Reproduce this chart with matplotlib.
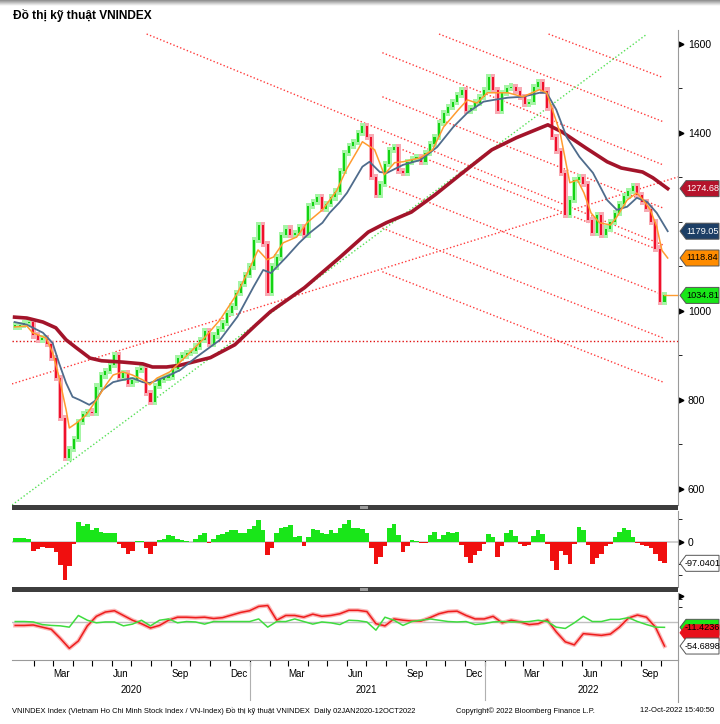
import matplotlib
matplotlib.use("Agg")
import matplotlib.pyplot as plt
import matplotlib.dates as mdates
import matplotlib.transforms as mtransforms
from matplotlib.patches import Rectangle, Polygon
import numpy as np
import pandas as pd

plt.rcParams["font.family"] = ["Liberation Sans", "DejaVu Sans"]

# weekly closes (first week ending 03JAN2020)
week_start = "2020-01-03"
closes = [
    964, 968, 972, 975, 945, 935, 938, 925, 895, 850,
    760, 670, 690, 712, 750, 768, 772, 770, 830, 855,
    865, 878, 900, 850, 860, 835, 845, 867, 872, 815,
    795, 832, 845, 850, 852, 870, 894, 900, 905, 910,
    920, 935, 955, 925, 945, 960, 973, 995, 1010, 1040,
    1060, 1080, 1100, 1160, 1192, 1150, 1040, 1100, 1120, 1170,
    1185, 1170, 1175, 1189, 1170, 1235, 1245, 1255, 1230, 1240,
    1255, 1268, 1315, 1355, 1370, 1380, 1400, 1415, 1390, 1300,
    1260, 1285, 1330, 1362, 1368, 1315, 1310, 1335, 1342, 1346,
    1335, 1355, 1375, 1391, 1422, 1445, 1458, 1470, 1485, 1497,
    1450, 1455, 1468, 1480, 1497, 1526, 1497, 1450, 1490, 1500,
    1503, 1495, 1480, 1465, 1470, 1503, 1515, 1495, 1455, 1390,
    1360, 1310, 1215, 1250, 1294, 1300, 1285, 1205, 1175, 1215,
    1170, 1185, 1200, 1220, 1240, 1258, 1270, 1280, 1260, 1245,
    1230, 1200, 1140, 1020, 1035,
]

# moving averages
ma_long_dates = ["2020-01-02", "2020-01-21", "2020-02-15", "2020-03-06", "2020-03-22", "2020-04-07",
                 "2020-04-28", "2020-05-16", "2020-06-18", "2020-07-19", "2020-08-03", "2020-08-25",
                 "2020-09-15", "2020-11-01", "2020-12-09", "2021-01-11", "2021-02-02", "2021-03-27",
                 "2021-05-20", "2021-07-04", "2021-08-01", "2021-09-09", "2021-10-16", "2021-11-29",
                 "2022-01-12", "2022-02-19", "2022-04-09", "2022-05-01", "2022-06-07", "2022-07-10",
                 "2022-08-01", "2022-09-03", "2022-09-19", "2022-10-12"]
ma_long = [986, 984, 975, 962, 935, 917, 894, 888, 885, 881, 874, 874,
           878, 895, 924, 969, 998, 1052, 1119, 1177, 1198, 1222, 1261, 1312,
           1362, 1389, 1418, 1402, 1366, 1335, 1321, 1312, 1299, 1274.68]

ma_mid_dates = ["2020-01-02", "2020-01-21", "2020-02-15", "2020-03-01", "2020-03-11", "2020-03-22",
                "2020-04-01", "2020-04-12", "2020-04-27", "2020-05-08", "2020-05-17", "2020-06-03",
                "2020-06-18", "2020-07-03", "2020-07-19", "2020-07-30", "2020-08-15", "2020-08-30",
                "2020-09-15", "2020-10-11", "2020-11-16", "2020-12-13", "2021-01-07", "2021-01-22",
                "2021-02-03", "2021-02-27", "2021-03-19", "2021-04-04", "2021-04-24", "2021-05-05",
                "2021-05-20", "2021-06-01", "2021-06-25", "2021-07-06", "2021-07-22", "2021-08-02",
                "2021-08-27", "2021-09-23", "2021-10-19", "2021-11-13", "2021-12-05", "2021-12-30",
                "2022-01-15", "2022-02-06", "2022-03-01", "2022-03-27", "2022-04-07", "2022-04-22",
                "2022-05-08", "2022-05-28", "2022-06-18", "2022-07-10", "2022-07-25", "2022-08-10",
                "2022-08-25", "2022-09-10", "2022-09-25", "2022-10-12"]
ma_mid = [975, 969, 951, 928, 883, 838, 807, 800, 789, 800, 822, 840,
          845, 849, 840, 838, 847, 856, 867, 897, 935, 987, 1054, 1092,
          1085, 1121, 1153, 1175, 1198, 1220, 1243, 1265, 1324, 1335, 1312, 1310,
          1328, 1339, 1368, 1413, 1445, 1470, 1474, 1479, 1481, 1490, 1490, 1452,
          1391, 1346, 1310, 1249, 1227, 1234, 1254, 1245, 1220, 1179.05]

ma_short_dates = ["2020-01-02", "2020-01-21", "2020-01-30", "2020-02-20", "2020-03-01", "2020-03-11",
                  "2020-03-22", "2020-03-27", "2020-04-07", "2020-04-22", "2020-05-08", "2020-05-23",
                  "2020-06-03", "2020-06-18", "2020-07-03", "2020-07-19", "2020-07-30", "2020-08-10",
                  "2020-08-30", "2020-09-15", "2020-10-20", "2020-11-16", "2020-12-13", "2021-01-02",
                  "2021-01-14", "2021-01-28", "2021-02-07", "2021-02-22", "2021-03-15", "2021-03-31",
                  "2021-04-24", "2021-05-16", "2021-06-01", "2021-06-18", "2021-06-25", "2021-07-14",
                  "2021-07-29", "2021-08-14", "2021-08-27", "2021-09-23", "2021-10-12", "2021-10-29",
                  "2021-11-21", "2021-12-05", "2021-12-20", "2022-01-05", "2022-01-15", "2022-02-06",
                  "2022-03-01", "2022-03-27", "2022-04-07", "2022-04-16", "2022-04-28", "2022-05-13",
                  "2022-05-25", "2022-06-04", "2022-06-15", "2022-06-28", "2022-07-15", "2022-07-25",
                  "2022-08-10", "2022-08-25", "2022-09-04", "2022-09-15", "2022-09-25", "2022-10-03",
                  "2022-10-12"]
ma_short = [964, 966, 951, 939, 906, 852, 778, 737, 748, 766, 800, 834,
            856, 863, 856, 845, 834, 849, 863, 885, 935, 980, 1040, 1099,
            1137, 1115, 1121, 1153, 1166, 1198, 1227, 1270, 1320, 1362, 1380, 1362,
            1306, 1333, 1335, 1344, 1362, 1413, 1452, 1474, 1467, 1490, 1490, 1490,
            1481, 1497, 1490, 1452, 1400, 1288, 1294, 1265, 1220, 1198, 1193, 1211,
            1249, 1265, 1249, 1227, 1189, 1136, 1118.84]

# trend lines: (start date, start value, end date, end value)
down_lines = [
    ("2022-04-10", 1622, "2022-10-05", 1524),
    ("2021-10-22", 1622, "2022-10-05", 1425),
    ("2021-07-26", 1580, "2022-10-05", 1328),
    ("2021-07-26", 1481, "2022-10-05", 1231),
    ("2021-07-26", 1380, "2022-10-05", 1133),
    ("2020-07-25", 1622, "2022-10-05", 1148),
    ("2021-07-26", 1285, "2022-10-05", 1036),
    ("2021-07-26", 1186, "2022-10-05", 939),
    ("2021-07-26", 1088, "2022-10-05", 840),
]
up_red_line = ("2019-12-29", 836, "2022-10-28", 1301)
up_green_line = ("2019-12-29", 564, "2022-09-10", 1622)
support_level = 933

# lower panel 1: histogram (weekly)
hist_vals = [
    15, 15, 15, 10, -40, -35, -25, -28, -30, -45,
    -105, -170, -110, -10, 90, 70, 80, 50, 60, 45,
    40, 40, 40, -10, -30, -55, -40, 5, 3, -30,
    -55, -20, 8, 10, 30, 25, 10, 8, 5, -3,
    10, 30, 40, -8, 10, 30, 35, 45, 50, 50,
    40, 40, 55, 70, 95, 50, -60, -30, 40, 60,
    65, 75, 20, 25, -20, 20, 55, 50, 40, 35,
    50, 40, 60, 80, 95, 60, 60, 55, 40, -30,
    -100, -70, -20, 60, 80, 30, -45, -20, 8, 5,
    -5, -5, 30, 45, 10, 30, 45, 40, 45, -15,
    -70, -95, -60, -40, -10, 35, 20, -70, -20, 40,
    50, 25, -10, -20, -15, 25, 50, 35, -10, -85,
    -125, -40, -60, -100, -10, 65, 50, -15, -100, -75,
    -55, -20, -10, 20, 45, 60, 50, 20, -5, -15,
    -20, -30, -55, -85, -97.04,
]

# lower panel 2: two oscillator lines (every two weeks)
osc_red = [
    -7, -7, -6, -11, -16, -37, -60, -43, -8, 14, 24, 27, 16, 5, -3, -13,
    -7, 5, 12, 12, 11, 12, 9, 11, 17, 23, 27, 37, 39, 5, 16, 16,
    12, 19, 14, 16, 20, 28, 28, 25, -3, -8, 8, 5, 3, 3, 11, 20,
    25, 26, 16, 8, 8, 14, -1, 5, 1, -5, -3, 6, -22, -45, -52, -26,
    -28, -30, -27, -11, 10, 17, 12, -11, -54.69,
]
osc_green = [
    2, 2, 1, -5, -7, -8, -11, 16, 5, -1, 1, 1, -8, -4, 5, -8,
    5, 8, -1, 2, 1, -4, 2, 2, 2, 2, 2, 8, -11, 2, 2, 8,
    2, -4, 1, -1, -5, 5, 4, 1, -18, 12, 5, -7, 2, 5, 8, 5,
    2, 1, 2, -5, -3, 1, 2, 1, 1, 2, 5, 2, -11, -14, -1, 14,
    2, 2, 7, 7, 11, 2, -5, -11, -11.42,
]

weeks = pd.date_range(week_start, periods=len(closes), freq="7D")
osc_dates = pd.date_range(week_start, periods=len(osc_red), freq="14D")
xmin, xmax = pd.Timestamp("2019-12-29"), pd.Timestamp("2022-10-28")

W, H = 720, 724
fig = plt.figure(figsize=(W / 100, H / 100), dpi=100)
pix = mtransforms.IdentityTransform()


def fbox(x0, y0, x1, y1):
    return [x0 / W, 1 - y1 / H, (x1 - x0) / W, (y1 - y0) / H]


ax = fig.add_axes(fbox(12, 30, 678, 505))
ax_h = fig.add_axes(fbox(12, 511, 678, 587), sharex=ax)
ax_o = fig.add_axes(fbox(12, 593, 678, 660), sharex=ax)

axis_grey = "#9a9a9a"
for a in (ax, ax_h, ax_o):
    for s in ("top", "left", "bottom"):
        a.spines[s].set_visible(False)
    a.spines["right"].set_color(axis_grey)
    a.yaxis.tick_right()
    a.tick_params(axis="y", which="major", length=0, labelsize=7.5, pad=7)
    a.tick_params(axis="x", which="both", length=0, labelbottom=False)
    a.set_xlim(xmin, xmax)
ax_o.spines["bottom"].set_visible(True)
ax_o.spines["bottom"].set_color(axis_grey)

# --- main panel ---
ax.set_ylim(564, 1631)
ax.set_yticks([600, 800, 1000, 1400, 1600])
ax.set_yticks([700, 900, 1100, 1200, 1300, 1500], minor=True)
ax.tick_params(axis="y", which="minor", length=3, color="black")

dot = (0, (1, 1.6))
for d0, v0, d1, v1 in down_lines:
    ax.plot([pd.Timestamp(d0), pd.Timestamp(d1)], [v0, v1], color="#ff3b3b", lw=1.0, ls=dot)
ax.plot([pd.Timestamp(up_red_line[0]), pd.Timestamp(up_red_line[2])],
        [up_red_line[1], up_red_line[3]], color="#ff3b3b", lw=1.0, ls=dot)
ax.plot([pd.Timestamp(up_green_line[0]), pd.Timestamp(up_green_line[2])],
        [up_green_line[1], up_green_line[3]], color="#55e055", lw=1.0, ls=dot)
ax.axhline(support_level, color="#e01010", lw=1.0, ls=dot)

opens = np.r_[closes[0], closes[:-1]]
cl = np.array(closes, dtype=float)
up = cl >= opens
body_lo = np.minimum(opens, cl)
body_h = np.maximum(np.abs(cl - opens), 4)
colors = np.where(up, "#13d313", "#f0102c")
halo = np.where(up, "#a6f5a6", "#f8aab3")
ax.bar(weeks, body_h + 14, bottom=body_lo - 7, width=7.0, color=halo, lw=0, zorder=3)
ax.bar(weeks, body_h, bottom=body_lo, width=3.2, color=colors, lw=0, zorder=4)

ax.plot(pd.to_datetime(ma_long_dates), ma_long, color="#a3142a", lw=2.6, zorder=5)
ax.plot(pd.to_datetime(ma_mid_dates), ma_mid, color="#4f6c8c", lw=1.3, zorder=5)
ax.plot(pd.to_datetime(ma_short_dates), ma_short, color="#ff9b2f", lw=1.1, zorder=6)
ax.plot([weeks[-1], xmax], [closes[-1], closes[-1]], color="#ff9b2f", lw=1.0, zorder=6)


def tag(a, value, text, face, fg, ec="#555555"):
    y = a.transData.transform((0, value))[1]
    pts = [(680, y), (686, y + 8), (719, y + 8), (719, y - 8), (686, y - 8)]
    fig.add_artist(Polygon(pts, closed=True, transform=pix, fc=face, ec=ec, lw=0.7, zorder=10))
    fig.text(702.5, y, text, transform=pix, fontsize=6.6, color=fg, ha="center", va="center", zorder=11)


def tri(a, value):
    t = mtransforms.blended_transform_factory(a.transAxes, a.transData)
    a.plot([1.005], [value], marker=">", ms=3.5, color="black", transform=t, clip_on=False)


for v in [600, 800, 1000, 1400, 1600]:
    tri(ax, v)
tag(ax, 1274.68, "1274.68", "#b5132b", "white")
tag(ax, 1179.05, "1179.05", "#1d3f66", "white")
tag(ax, 1118.84, "1118.84", "#ff8c00", "black")
tag(ax, 1034.81, "1034.81", "#19e619", "black")

# --- histogram panel ---
ax_h.set_ylim(-203, 137)
ax_h.set_yticks([0])
ax_h.set_yticks([-150, -100, 100], minor=True)
ax_h.tick_params(axis="y", which="minor", length=3, color="black")
hv = np.array(hist_vals)
ax_h.bar(weeks, hv, width=7, color=np.where(hv >= 0, "#19e619", "#f00f0f"), lw=0)
ax_h.axhline(0, color="#c8c8c8", lw=1.2, zorder=0)
tri(ax_h, 0)
tag(ax_h, -97.0401, "-97.0401", "white", "black")

# --- oscillator panel ---
ax_o.set_ylim(-87, 68)
ax_o.set_yticks([])
ax_o.set_yticks([35, 55], minor=True)
ax_o.tick_params(axis="y", which="minor", length=3, color="black")
ax_o.axhline(0, color="#c0c0c0", lw=1.0, zorder=0)
ax_o.plot(osc_dates, osc_red, color="#fbb6b6", lw=3.0, zorder=2)
ax_o.plot(osc_dates, osc_red, color="#ee1c1c", lw=1.1, zorder=3)
ax_o.plot(osc_dates, osc_green, color="#3fdc3f", lw=1.1, zorder=4)
tri(ax_o, 60)
tag(ax_o, -11.4236, "-11.4236", "#19e619", "black")
tag(ax_o, -24, "", "#e8101a", "black", ec="#e8101a")
tag(ax_o, -54.6898, "-54.6898", "white", "black")

# month ticks and labels under the bottom panel
month_starts = pd.date_range("2020-02-01", "2022-10-01", freq="MS")
ax_o.set_xticks(month_starts)
ax_o.tick_params(axis="x", which="major", length=4, color="black", direction="out")
xtr = mtransforms.blended_transform_factory(ax_o.transData, fig.transFigure)
for yr in (2020, 2021, 2022):
    for mon, name in ((3, "Mar"), (6, "Jun"), (9, "Sep"), (12, "Dec")):
        d = pd.Timestamp(yr, mon, 15)
        if d < xmax:
            ax_o.text(d, 1 - 674 / H, name, transform=xtr, ha="center", va="center", fontsize=7)
for yr, mid in ((2020, "2020-07-01"), (2021, "2021-07-01"), (2022, "2022-06-10")):
    ax_o.text(pd.Timestamp(mid), 1 - 690 / H, str(yr), transform=xtr, ha="center", va="center", fontsize=7)
for d in ("2021-01-01", "2022-01-01"):
    dn = mdates.date2num(pd.Timestamp(d))
    ax_o.plot([dn, dn], [1 - 662 / H, 1 - 700 / H], transform=xtr, color="#b0b0b0", lw=0.8, clip_on=False)
fig.add_artist(plt.Line2D([678 / W, 678 / W], [1 - 660 / H, 1 - 702 / H], color=axis_grey, lw=0.8))

# panel separators
for y0 in (505, 587):
    fig.add_artist(Rectangle((12 / W, 1 - (y0 + 5) / H), 666 / W, 5 / H, transform=fig.transFigure,
                             color="#3d3d3d", lw=0))
    fig.add_artist(Rectangle((360 / W, 1 - (y0 + 4) / H), 8 / W, 3 / H, transform=fig.transFigure,
                             color="#9a9a9a", lw=0))

# top shadow band
sh = fig.add_axes([0, 1 - 6 / H, 1, 6 / H])
sh.imshow(np.linspace(0.55, 1, 20).reshape(-1, 1), cmap="gray", aspect="auto", vmin=0, vmax=1)
sh.axis("off")

fig.text(13 / W, 1 - 16 / H, "Đồ thị kỹ thuật VNINDEX", fontsize=8.6, fontweight="bold", va="center")
fig.text(12 / W, 1 - 711 / H,
         "VNINDEX Index (Vietnam Ho Chi Minh Stock Index / VN-Index) Đồ thị kỹ thuật VNINDEX  Daily 02JAN2020-12OCT2022",
         fontsize=5.4, va="center")
fig.text(456 / W, 1 - 711 / H, "Copyright© 2022 Bloomberg Finance L.P.", fontsize=5.4, va="center")
fig.text(640 / W, 1 - 711 / H, "12-Oct-2022 15:40:50", fontsize=5.5, va="center")

fig.savefig("out.png", dpi=100)
